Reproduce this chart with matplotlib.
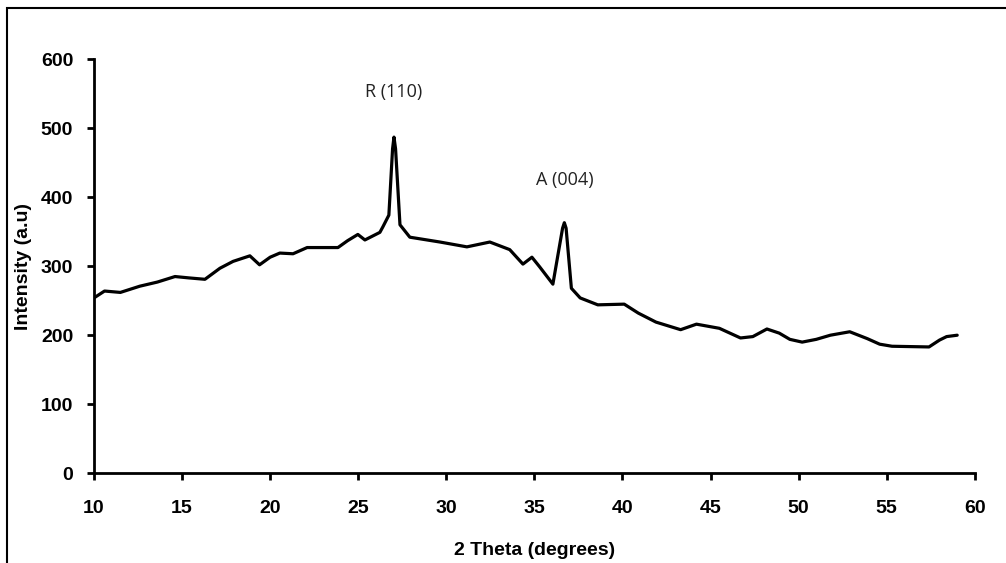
import numpy as np
import matplotlib.pyplot as plt
from matplotlib.patches import Rectangle

# XRD pattern read point by point
two_theta = [10.0, 10.6, 11.5, 12.6, 13.6, 14.6, 15.4, 16.3, 17.15, 17.9,
             18.85, 19.4, 20.0, 20.55, 21.3, 22.1, 23.85, 24.4, 24.98, 25.38,
             26.23, 26.4, 26.74, 26.95, 27.03, 27.12, 27.37, 27.93, 29.64, 31.17,
             32.47, 33.6, 34.35, 34.86, 35.3, 36.05, 36.6, 36.7, 36.8, 37.1,
             37.6, 38.6, 40.1, 40.9, 41.9, 43.3, 44.2, 45.5, 46.7, 47.4,
             48.2, 48.9, 49.5, 50.2, 51.0, 51.8, 52.9, 53.9, 54.6, 55.3,
             57.4, 58.0, 58.4, 59.0]
intensity = [254, 264, 262, 271, 277, 285, 283, 281, 297, 307,
             315, 302, 313, 319, 318, 327, 327, 337, 346, 338,
             349, 357, 374, 470, 487, 470, 360, 342, 335, 328,
             335, 324, 303, 313, 299, 274, 355, 363, 355, 268,
             254, 244, 245, 232, 219, 208, 216, 210, 196, 198,
             209, 203, 194, 190, 194, 200, 205, 195, 187, 184,
             183, 193, 198, 200]

peak_labels = ["R (110)", "A (004)"]
peak_pos = [(27.0, 552), (36.7, 425)]

x_ticks = list(range(10, 61, 5))
y_ticks = list(range(0, 601, 100))

plt.rcParams['font.family'] = ['Liberation Sans', 'DejaVu Sans']

fig = plt.figure(figsize=(10.06, 5.63), dpi=100)
ax = fig.add_axes([0.0934, 0.1594, 0.8756, 0.7356])

ax.plot(two_theta, intensity, color='black', lw=2.3,
        solid_joinstyle='round', solid_capstyle='round')

for txt, (px, py) in zip(peak_labels, peak_pos):
    ax.text(px, py, txt, ha='center', va='center', fontsize=13, color='#222222',
            family=['Open Sans', 'DejaVu Sans'])

ax.set_xlim(10, 60)
ax.set_ylim(0, 600)
ax.set_xticks(x_ticks)
ax.set_yticks(y_ticks)
for lab in ax.get_xticklabels() + ax.get_yticklabels():
    lab.set_fontweight('bold')
    lab.set_fontsize(14)
ax.tick_params(direction='out', length=5, width=2)
ax.tick_params(axis='x', pad=14)
ax.tick_params(axis='y', pad=10)

ax.spines['top'].set_visible(False)
ax.spines['right'].set_visible(False)
for s in ('left', 'bottom'):
    ax.spines[s].set_linewidth(2)

ax.set_xlabel('2 Theta (degrees)', fontsize=14, fontweight='bold', labelpad=18)
ax.set_ylabel('Intensity (a.u)', fontsize=14, fontweight='bold', labelpad=6)

# outer frame (right and bottom edges fall outside the canvas)
fig.patches.append(Rectangle((0.007, -0.05), 1.05, 1.036, transform=fig.transFigure,
                             fill=False, edgecolor='black', lw=1.5))

fig.savefig('out.png', dpi=100)
